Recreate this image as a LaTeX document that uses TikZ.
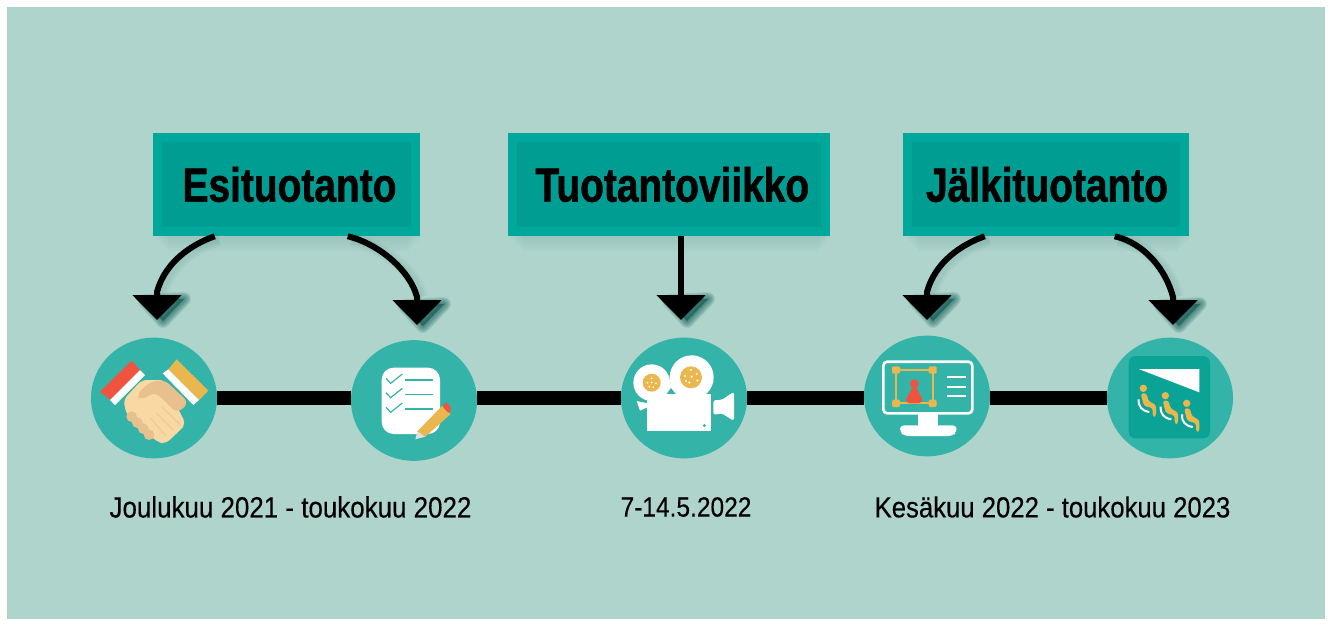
\documentclass[tikz,border=0pt]{standalone}
\usepackage{fontspec}
\usetikzlibrary{arrows.meta,calc,shapes.geometric}
\setmainfont{Liberation Sans}
\newfontfamily\headfont[FakeStretch=0.81,RawFeature={embolden=1.2}]{Liberation Sans Bold}
\newfontfamily\datefont[FakeStretch=0.884,RawFeature={embolden=0.3}]{Liberation Sans}
\definecolor{bgteal}{RGB}{174,212,204}
\definecolor{circteal}{RGB}{52,179,168}
\definecolor{boxouter}{RGB}{0,168,155}
\definecolor{boxinner}{RGB}{0,157,147}
\definecolor{shadowc}{RGB}{8,84,78}
\definecolor{iconred}{RGB}{240,84,62}
\definecolor{iconyellow}{RGB}{233,183,78}
\definecolor{skinlight}{RGB}{250,216,163}
\definecolor{skindark}{RGB}{232,192,141}
\definecolor{skinline}{RGB}{240,203,147}
\definecolor{cinemabox}{RGB}{12,163,151}
\tikzset{
 disc/.style={ellipse,fill=circteal,minimum width=94.5pt,minimum height=90.5pt,inner sep=0pt},
 stagebox/.style={rectangle,fill=boxouter,minimum height=77.25pt,inner sep=0pt,font=\headfont\fontsize{36}{36}\selectfont,text=black,
   path picture={
     \fill[boxinner] ($(path picture bounding box.south west)+(7pt,7pt)$) rectangle ($(path picture bounding box.north east)-(7pt,7pt)$);
   }},
 datelabel/.style={font=\datefont\fontsize{22}{22}\selectfont,text=black,inner sep=0pt},
 curve/.style={line width=4.5pt,draw=black,-{Triangle[length=18.75pt,width=36pt]}},
 spine/.style={line width=10.5pt,draw=black},
}
% soft shadow of an arrowhead whose tip is at the given coordinate
\newcommand{\headshade}[1]{%
 \foreach \w in {14,12,10,8,6,4,2}{
  \filldraw[shadowc,opacity=.11,line width=\w*.75pt,line join=round]
   ($(#1)+(6,1)$) -- ($(#1)+(-12,-19)$) -- ($(#1)+(27,-21)$) -- cycle;}}
\newcommand{\lineshade}[1]{%
 \foreach \w in {14,10,6}{
  \draw[shadowc,opacity=.035,line width=\w*.75pt] #1;}}
\begin{document}
\begin{tikzpicture}[x=.75pt,y=-.75pt]
\useasboundingbox (0,0) rectangle (1330,624);
\fill[white] (0,0) rectangle (1330,624);
\fill[bgteal] (7,7) rectangle (1325,619);

% soft shadows below the boxes
\foreach \a/\b in {153/420,508/830,903/1189}{
 \foreach \d in {3,6,9,12,15}{
  \fill[shadowc,opacity=.018] (\a+\d,236) rectangle (\b-\d+4,236+\d);}}

% circles
\node[disc] (c1) at (154,398) {};
\node[disc] (c2) at (414,400.5) {};
\node[disc] (c3) at (684,398) {};
\node[disc] (c4) at (927,396) {};
\node[disc] (c5) at (1170,398) {};

% spine
\draw[spine] (c1.east) -- (c1.east -| c2.west);
\draw[spine] (c2.east |- c1.east) -- (c1.east -| c3.west);
\draw[spine] (c3.east) -- (c3.east -| c4.west);
\draw[spine] (c4.east |- c3.east) -- (c3.east -| c5.west);

% boxes
\node[stagebox,minimum width=200.25pt] (b1) at (286.5,184.5) {\hspace*{4.5pt}Esituotanto};
\node[stagebox,minimum width=241.5pt] (b2) at (669,184.5) {\hspace*{5pt}Tuotantoviikko};
\node[stagebox,minimum width=214.5pt] (b3) at (1046,184.5) {\hspace*{1.5pt}Jälkituotanto};

% arrow tips
\coordinate (t1) at (157,320);
\coordinate (t2) at (417,325);
\coordinate (t3) at (681,320);
\coordinate (t4) at (927,320);
\coordinate (t5) at (1173,325);

\lineshade{($(b1.south west)+(66,3)$) .. controls +(-23,8) and ($(t1)+(12,-58)$) .. ($(t1)+(4,-25)$)}
\lineshade{($(b1.south west)+(199,3)$) .. controls +(30,7) and ($(t2)+(-3,-55)$) .. ($(t2)+(4,-28)$)}
\lineshade{($(b3.south west)+(86,3)$) .. controls +(-23,8) and ($(t4)+(12,-58)$) .. ($(t4)+(4,-25)$)}
\lineshade{($(b3.south west)+(216,3)$) .. controls +(30,7) and ($(t5)+(-3,-55)$) .. ($(t5)+(4,-28)$)}
\headshade{t1}\headshade{t2}\headshade{t3}\headshade{t4}\headshade{t5}

\draw[curve] ($(b1.south west)+(62,0)$) .. controls +(-23,8) and ($(t1)+(8,-58)$) .. ($(t1)+(0,-28)$) -- (t1);
\draw[curve] ($(b1.south west)+(195,0)$) .. controls +(30,7) and ($(t2)+(-7,-55)$) .. ($(t2)+(0,-28)$) -- (t2);
\draw[curve] (b2.south -| t3) -- (t3);
\draw[curve] ($(b3.south west)+(82,0)$) .. controls +(-23,8) and ($(t4)+(8,-58)$) .. ($(t4)+(0,-28)$) -- (t4);
\draw[curve] ($(b3.south west)+(212,0)$) .. controls +(30,7) and ($(t5)+(-7,-55)$) .. ($(t5)+(0,-28)$) -- (t5);

% labels
\node[datelabel] (d1) at (290.5,507) {Joulukuu 2021 - toukokuu 2022};
\node[datelabel,font=\datefont\fontsize{20.8}{22}\selectfont] (d2) at (686,507) {7-14.5.2022};
\node[datelabel,font=\datefont\fontsize{21.8}{22}\selectfont] (d3) at (1052.5,507) {Kesäkuu 2022 - toukokuu 2023};

% handshake icon
\begin{scope}[shift={(90,350)},x=.25pt,y=-.25pt]
 \fill[skinlight,rounded corners=4pt] (100,150) -- (155,90) -- (225,90) -- (240,130) -- (288,222) -- (270,240) -- (248,262) -- (225,282) -- (200,275) -- (140,215) -- (110,195) -- cycle;
 \fill[skindark,rounded corners=5pt] (138,135) -- (178,97) -- (222,88) -- (297,158) -- (262,190) -- (195,125) -- (152,152) -- cycle;
 \foreach \x/\y in {125/200,142/218,160/236,177/254}{\fill[skindark] (\x,\y) circle[radius=16];}
 \foreach \a/\b/\c/\d in {215/170/272/225,200/190/250/240,182/205/228/258}{\draw[skinline,line width=.9pt] (\a,\b) -- (\c,\d);}
 \fill[iconred] (30,125) -- (125,32) -- (152,62) -- (62,150) -- cycle;
 \fill[white] (60,150) -- (150,60) -- (165,75) -- (75,165) -- cycle;
 \fill[iconyellow] (235,58) -- (260,28) -- (355,122) -- (327,150) -- cycle;
 \fill[white] (218,70) -- (235,58) -- (327,150) -- (310,165) -- cycle;
\end{scope}

% checklist icon
\begin{scope}[shift={(80,320)},x=.25pt,y=-.25pt]
 \fill[white,rounded corners=9pt] (905,143) rectangle (1080,342);
 \foreach \y in {180,223,267}{
  \draw[circteal,line width=1.25pt] (975,\y) -- (1058,\y);
  \draw[circteal,line width=.9pt] (918,\y-5) -- (932,\y+10) -- (967,\y-18);}
 \fill[iconyellow] (1012,334) -- (1086,258) -- (1112,282) -- (1036,350) -- cycle;
 \fill[iconred,rounded corners=2pt] (1086,258) -- (1098,246) -- (1114,262) -- (1108,282) -- cycle;
 \fill[white!75!gray] (1012,334) -- (1036,350) -- (1006,358) -- cycle;
\end{scope}

% camera icon
\begin{scope}[shift={(610,320)},x=.25pt,y=-.25pt]
 \fill[white] (125,188) circle[radius=55];
 \fill[white] (245,172) circle[radius=66];
 \fill[white] (160,190) rectangle (200,225);
 \fill[circteal] (183,204) -- (170,222) -- (197,222) -- cycle;
 \fill[iconyellow] (125,188) circle[radius=27];
 \fill[iconyellow] (243,172) circle[radius=33];
 \foreach \x/\y in {125/175,112/188,138/190,118/200,130/202,125/187}{\fill[white] (\x,\y) circle[radius=3];}
 \foreach \x/\y in {243/150,225/168,260/162,262/182,238/188,245/170,228/183}{\fill[white] (\x,\y) circle[radius=3.5];}
 \fill[white] (112,222) rectangle (303,332);
 \fill[white] (80,243) -- (112,250) -- (112,262) -- (90,272) -- cycle;
 \fill[white,rounded corners=2pt] (310,240) -- (335,240) -- (372,215) -- (372,303) -- (335,280) -- (310,285) -- cycle;
 \fill[circteal] (283,317) circle[radius=5];
\end{scope}

% monitor icon
\begin{scope}[shift={(610,320)},x=.25pt,y=-.25pt]
 \fill[white] (925,280) rectangle (985,320);
 \fill[white,rounded corners=3pt] (870,316) -- (1040,316) -- (1040,335) -- (1028,348) -- (882,348) -- (870,335) -- cycle;
 \draw[white,line width=2pt,rounded corners=3pt] (820,125) rectangle (1087,280);
 \draw[iconyellow,line width=1.5pt] (858,150) rectangle (968,250);
 \foreach \x/\y in {858/150,968/150,858/250,968/250}{\fill[iconyellow,rounded corners=1pt] (\x-12,\y-11) rectangle (\x+12,\y+11);}
 \fill[iconred] (913,191) circle[radius=13];
 \fill[iconred,rounded corners=3pt] (888,250) -- (888,232) -- (903,215) -- (905,200) -- (921,200) -- (923,215) -- (937,232) -- (937,250) -- cycle;
 \foreach \y in {171,200,229}{\draw[white,line width=1.5pt] (1010,\y) -- (1067,\y);}
\end{scope}

% cinema icon
\begin{scope}[shift={(1090,320)},x=.25pt,y=-.25pt]
 \fill[cinemabox,rounded corners=5pt] (116,108) rectangle (360,355);
 \fill[white] (146,147) -- (328,147) -- (328,217) -- cycle;
 \foreach \dx/\dy in {0/0,66/22,130/45}{
  \begin{scope}[shift={(\dx,\dy)}]
   \draw[white,line width=1.5pt] (146,238) .. controls (145,260) and (155,272) .. (178,276);
   \fill[iconyellow] (160,205) circle[radius=11];
   \fill[iconyellow,rounded corners=2pt] (152,220) -- (170,220) -- (175,243) -- (198,255) -- (198,290) -- (188,290) -- (188,264) -- (162,258) -- cycle;
  \end{scope}}
\end{scope}
\end{tikzpicture}
\end{document}
